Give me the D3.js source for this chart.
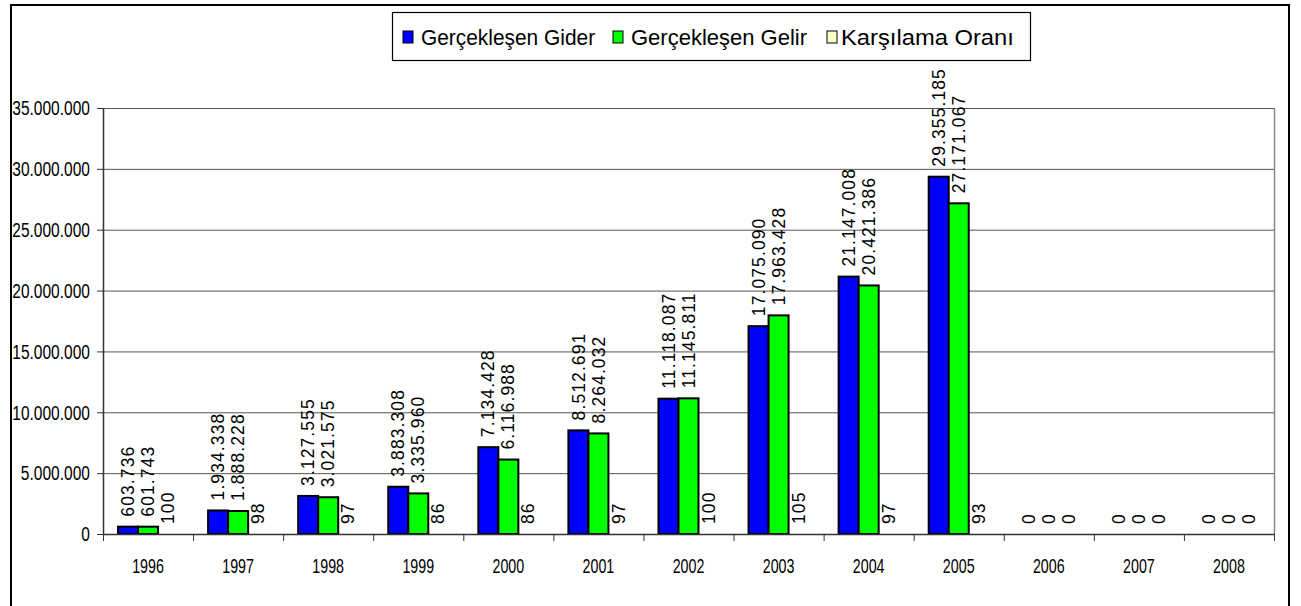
<!DOCTYPE html>
<html>
<head>
<meta charset="utf-8">
<script src="https://cdn.jsdelivr.net/npm/d3@7"></script>
<style>
    body { margin: 0; background: #fff; }
    text { font-family: "Liberation Sans", Arial, sans-serif; fill: #000; }
</style>
</head>
<body>
<div id="chart"></div>
<script>
// chart data
var years = ['1996', '1997', '1998', '1999', '2000', '2001', '2002', '2003', '2004', '2005', '2006', '2007', '2008'];
var giderValues = [603736, 1934338, 3127555, 3883308, 7134428, 8512691, 11118087, 17075090, 21147008, 29355185, 0, 0, 0];
var gelirValues = [601743, 1888228, 3021575, 3335960, 6116988, 8264032, 11145811, 17963428, 20421386, 27171067, 0, 0, 0];
var oranValues = [100, 98, 97, 86, 86, 97, 100, 105, 97, 93, 0, 0, 0];
var seriesNames = ['Gerçekleşen Gider', 'Gerçekleşen Gelir', 'Karşılama Oranı'];
var yTicks = [0, 5000000, 10000000, 15000000, 20000000, 25000000, 30000000, 35000000];

var seriesColors = ['#0000ff', '#00ff00', '#ffffcc'];
var allSeries = [giderValues, gelirValues, oranValues];

// turkish number format: 1.234.567
var trLocale = d3.formatLocale({decimal: ',', thousands: '.', grouping: [3], currency: ['', '']});
var fmt = trLocale.format(',d');

var W = 1301, H = 606;
var plot = {left: 103, right: 1274, top: 108, bottom: 534};

var svg = d3.select('#chart').append('svg')
    .attr('width', W)
    .attr('height', H);

// outer chart border
svg.append('rect')
    .attr('x', 11).attr('y', 5)
    .attr('width', 1278).attr('height', 620)
    .attr('fill', '#fff')
    .attr('stroke', '#000')
    .attr('stroke-width', 2);

// scales
var xScale = d3.scaleBand()
    .domain(years)
    .range([plot.left, plot.right])
    .paddingInner(0)
    .paddingOuter(0);

// 3 bars in a band, gap of 1.5 bar widths split on both sides
var innerScale = d3.scaleBand()
    .domain([0, 1, 2])
    .range([xScale.bandwidth() * 0.75 / 4.5, xScale.bandwidth() * 3.75 / 4.5]);

var yScale = d3.scaleLinear()
    .domain([0, 35000000])
    .range([plot.bottom, plot.top]);

// gridlines
svg.append('g')
    .selectAll('line')
    .data(yTicks.slice(1))
    .enter()
    .append('line')
        .attr('x1', plot.left)
        .attr('x2', plot.right)
        .attr('y1', function(d){ return yScale(d) + 0.5; })
        .attr('y2', function(d){ return yScale(d) + 0.5; })
        .attr('stroke', '#555')
        .attr('stroke-width', 1);

// right plot border (gray)
svg.append('line')
    .attr('x1', plot.right + 0.5).attr('x2', plot.right + 0.5)
    .attr('y1', plot.top).attr('y2', plot.bottom)
    .attr('stroke', '#888')
    .attr('stroke-width', 1.5);

// bars
allSeries.forEach(function(vals, si){
    var g = svg.append('g');
    g.selectAll('rect')
        .data(vals)
        .enter()
        .append('rect')
            .attr('x', function(d, i){ return xScale(years[i]) + innerScale(si); })
            .attr('y', function(d){ return yScale(d); })
            .attr('width', innerScale.bandwidth())
            .attr('height', function(d){ return plot.bottom - yScale(d); })
            .attr('fill', seriesColors[si])
            .attr('stroke', '#000')
            .attr('stroke-width', 2)
            .style('display', function(d){ return yScale(d) >= plot.bottom - 0.5 ? 'none' : null; });

    // value labels, rotated
    g.selectAll('text')
        .data(vals)
        .enter()
        .append('text')
            .attr('transform', function(d, i){
                var cx = xScale(years[i]) + innerScale(si) + innerScale.bandwidth() / 2;
                var ty = yScale(d) - 10;
                return 'translate(' + cx + ',' + ty + ') rotate(-90)';
            })
            .attr('dy', '0.35em')
            .attr('font-size', 17.5)
            .attr('letter-spacing', 1.1)
            .text(function(d){ return fmt(d); });
});

// y axis
var yAxisG = svg.append('g');
yAxisG.append('line')
    .attr('x1', plot.left + 0.5).attr('x2', plot.left + 0.5)
    .attr('y1', plot.top).attr('y2', plot.bottom)
    .attr('stroke', '#333')
    .attr('stroke-width', 1.5);
yAxisG.selectAll('line.tick')
    .data(yTicks)
    .enter()
    .append('line')
        .attr('class', 'tick')
        .attr('x1', plot.left - 6).attr('x2', plot.left)
        .attr('y1', function(d){ return yScale(d) + 0.5; })
        .attr('y2', function(d){ return yScale(d) + 0.5; })
        .attr('stroke', '#333');
yAxisG.selectAll('text')
    .data(yTicks)
    .enter()
    .append('text')
        .attr('transform', function(d){
            return 'translate(90,' + yScale(d) + ') scale(0.74,1)';
        })
        .attr('text-anchor', 'end')
        .attr('dy', '0.35em')
        .attr('font-size', 21)
        .text(function(d){ return fmt(d); });

// x axis
var xAxisG = svg.append('g');
xAxisG.append('line')
    .attr('x1', plot.left).attr('x2', plot.right + 1)
    .attr('y1', plot.bottom + 0.5).attr('y2', plot.bottom + 0.5)
    .attr('stroke', '#333')
    .attr('stroke-width', 1.5);
xAxisG.selectAll('line.tick')
    .data(years.concat(['end']))
    .enter()
    .append('line')
        .attr('class', 'tick')
        .attr('x1', function(d, i){ return plot.left + i * xScale.bandwidth() + 0.5; })
        .attr('x2', function(d, i){ return plot.left + i * xScale.bandwidth() + 0.5; })
        .attr('y1', plot.bottom).attr('y2', plot.bottom + 7)
        .attr('stroke', '#333');
xAxisG.selectAll('text')
    .data(years)
    .enter()
    .append('text')
        .attr('transform', function(d){
            return 'translate(' + (xScale(d) + xScale.bandwidth() / 2) + ',566) scale(0.68,1)';
        })
        .attr('text-anchor', 'middle')
        .attr('dy', '0.35em')
        .attr('font-size', 21)
        .text(function(d){ return d; });

// legend
var legend = svg.append('g');
legend.append('rect')
    .attr('x', 392.5).attr('y', 12.5)
    .attr('width', 638).attr('height', 48)
    .attr('fill', '#fff')
    .attr('stroke', '#000')
    .attr('stroke-width', 1.2);
var legX = [403, 613, 827];
var legScale = [0.95, 1.0, 1.08];
seriesNames.forEach(function(name, i){
    legend.append('rect')
        .attr('x', legX[i]).attr('y', 31)
        .attr('width', 10).attr('height', 12)
        .attr('fill', seriesColors[i])
        .attr('stroke', '#000')
        .attr('stroke-width', 1);
    legend.append('text')
        .attr('transform', 'translate(' + (legX[i] + (i == 2 ? 14 : 18)) + ',37) scale(' + legScale[i] + ',1)')
        .attr('dy', '0.35em')
        .attr('font-size', 22)
        .text(name);
});
</script>
</body>
</html>
